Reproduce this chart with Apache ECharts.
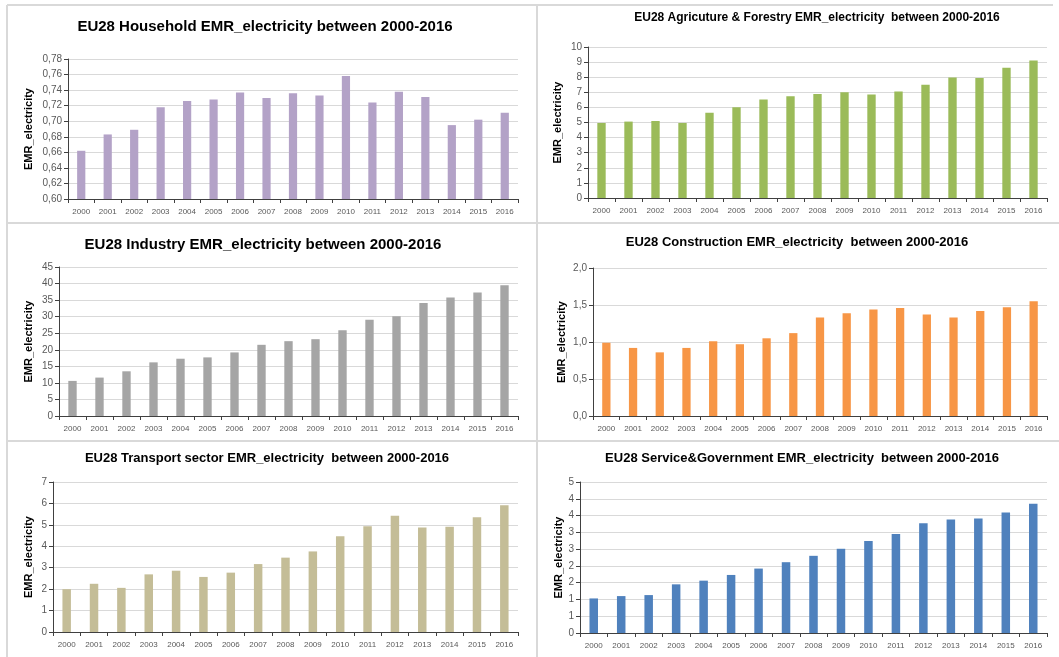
<!DOCTYPE html>
<html>
<head>
<meta charset="utf-8">
<script src="https://cdn.jsdelivr.net/npm/echarts@6/dist/echarts.min.js"></script>
<style>
html, body { margin: 0; padding: 0; background: #fff; }
#main { width: 1059px; height: 657px; }
</style>
</head>
<body>
<div id="main"></div>
<script>
var years = ['2000', '2001', '2002', '2003', '2004', '2005', '2006', '2007', '2008',
	'2009', '2010', '2011', '2012', '2013', '2014', '2015', '2016'];

var household = [0.662, 0.683, 0.689, 0.718, 0.726, 0.728, 0.737, 0.730, 0.736,
	0.733, 0.758, 0.724, 0.738, 0.731, 0.695, 0.702, 0.711];
var agriculture = [4.97, 5.06, 5.10, 4.97, 5.65, 6.01, 6.52, 6.74, 6.88,
	7.01, 6.85, 7.05, 7.50, 7.98, 7.94, 8.63, 9.11];
var industry = [10.6, 11.6, 13.5, 16.2, 17.3, 17.7, 19.2, 21.5, 22.6,
	23.2, 25.9, 29.1, 30.1, 34.1, 35.8, 37.3, 39.5];
var construction = [0.99, 0.92, 0.86, 0.92, 1.01, 0.97, 1.05, 1.12, 1.33,
	1.39, 1.44, 1.46, 1.37, 1.33, 1.42, 1.47, 1.55];
var transport = [2.00, 2.25, 2.06, 2.69, 2.86, 2.57, 2.77, 3.17, 3.47,
	3.76, 4.47, 4.94, 5.42, 4.88, 4.91, 5.36, 5.92];
var service = [1.03, 1.10, 1.13, 1.45, 1.56, 1.73, 1.92, 2.11, 2.30,
	2.51, 2.74, 2.95, 3.27, 3.38, 3.41, 3.59, 3.85];

var titles = [
	'EU28 Household EMR_electricity between 2000-2016',
	'EU28 Agricuture & Forestry EMR_electricity  between 2000-2016',
	'EU28 Industry EMR_electricity between 2000-2016',
	'EU28 Construction EMR_electricity  between 2000-2016',
	'EU28 Transport sector EMR_electricity  between 2000-2016',
	'EU28 Service&Government EMR_electricity  between 2000-2016'
];

var FONT = 'Liberation Sans';

// panel layout: grid box, title centre/top/size, y name gap
var panels = [
	{ data: household, color: '#b3a2c7', min: 0.6, max: 0.78, step: 0.02,
		fmt: function (v) { return v.toFixed(2).replace('.', ','); },
		grid: [68, 59, 450, 140], title: [265, 19, 15], gap: 34 },
	{ data: agriculture, color: '#9bbb59', min: 0, max: 10, step: 1,
		fmt: function (v) { return String(Math.round(v)); },
		grid: [588, 47, 459, 151], title: [817, 12, 12], gap: 25 },
	{ data: industry, color: '#a5a5a5', min: 0, max: 45, step: 5,
		fmt: function (v) { return String(Math.round(v)); },
		grid: [59, 267, 459, 149], title: [263, 237, 15], gap: 25 },
	{ data: construction, color: '#f79646', min: 0, max: 2, step: 0.5,
		fmt: function (v) { return v.toFixed(1).replace('.', ','); },
		grid: [593, 268, 454, 148], title: [797, 236, 13], gap: 26 },
	{ data: transport, color: '#c4bd97', min: 0, max: 7, step: 1,
		fmt: function (v) { return String(Math.round(v)); },
		grid: [53, 482, 465, 150], title: [267, 452, 13], gap: 19 },
	{ data: service, color: '#4f81bd', min: 0, max: 4.5, step: 0.5,
		fmt: function (v) { return String(Math.round(v)); },
		grid: [580, 482, 467, 151], title: [802, 452, 13], gap: 16 }
];

var option = {
	animation: false,
	backgroundColor: '#ffffff',
	title: [],
	grid: [],
	xAxis: [],
	yAxis: [],
	series: [],
	graphic: []
};

panels.forEach(function (p, i) {
	option.title.push({
		text: titles[i],
		left: p.title[0],
		top: p.title[1],
		padding: 0,
		textAlign: 'center',
		textStyle: { fontFamily: FONT, fontSize: p.title[2], fontWeight: 'bold', color: '#000' }
	});
	option.grid.push({ left: p.grid[0], top: p.grid[1], width: p.grid[2], height: p.grid[3] });
	option.xAxis.push({
		type: 'category',
		gridIndex: i,
		data: years,
		axisLine: { lineStyle: { color: '#404040', width: 1 } },
		axisTick: { show: true, length: 4, lineStyle: { color: '#404040' } },
		axisLabel: { interval: 0, fontFamily: FONT, fontSize: 8, color: '#595959', margin: 9 }
	});
	option.yAxis.push({
		type: 'value',
		gridIndex: i,
		min: p.min,
		max: p.max,
		interval: p.step,
		name: 'EMR_electricity',
		nameLocation: 'middle',
		nameGap: p.gap,
		nameTextStyle: { fontFamily: FONT, fontSize: 11, fontWeight: 'bold', color: '#000' },
		axisLine: { show: true, lineStyle: { color: '#404040', width: 1 } },
		axisTick: { show: true, length: 4, lineStyle: { color: '#404040' } },
		axisLabel: { fontFamily: FONT, fontSize: 10, color: '#595959', margin: 6, formatter: p.fmt },
		splitLine: { lineStyle: { color: '#d9d9d9', width: 1 } }
	});
	option.series.push({
		type: 'bar',
		xAxisIndex: i,
		yAxisIndex: i,
		data: p.data,
		barWidth: '31%',
		itemStyle: { color: p.color }
	});
});

// light panel frame lines
var frameStyle = { stroke: '#d9d9d9', lineWidth: 2 };
[[7, 5, 7, 657], [537, 5, 537, 657], [7, 5, 1053, 5], [7, 223, 1059, 223], [7, 441, 1059, 441]]
	.forEach(function (s) {
		option.graphic.push({
			type: 'line',
			silent: true,
			shape: { x1: s[0], y1: s[1], x2: s[2], y2: s[3] },
			style: frameStyle
		});
	});

var chart = echarts.init(document.getElementById('main'));
chart.setOption(option);
</script>
</body>
</html>
